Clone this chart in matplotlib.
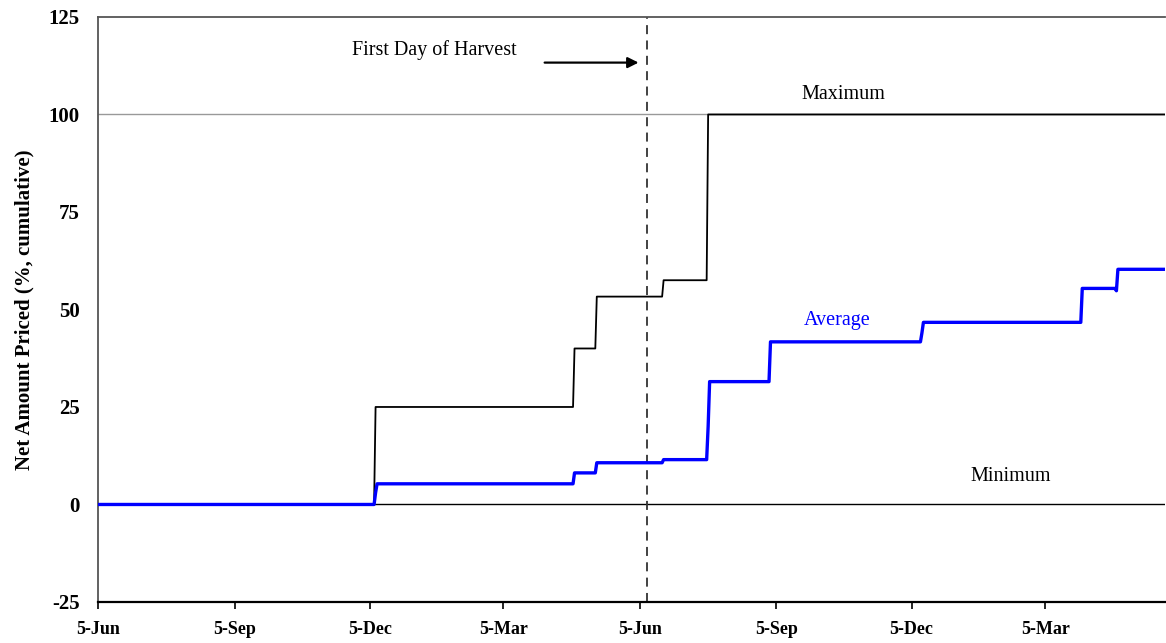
import matplotlib
matplotlib.use("Agg")
import matplotlib.pyplot as plt

# days counted from 5-Jun of the first year
tick_days = [0, 92, 183, 273, 365, 457, 548, 638]
tick_labels = ["5-Jun", "5-Sep", "5-Dec", "5-Mar", "5-Jun", "5-Sep", "5-Dec", "5-Mar"]

max_days = [0, 186, 187, 320, 321, 335, 336, 380, 381, 410, 411, 719]
max_vals = [0, 0, 25, 25, 40, 40, 53.3, 53.3, 57.5, 57.5, 100, 100]

avg_days = [0, 186, 187, 188, 320, 321, 335, 336, 380, 381, 410, 411, 412,
            452, 453, 554, 555, 556, 662, 663, 685, 686, 687, 719]
avg_vals = [0, 0, 3, 5.3, 5.3, 8.1, 8.1, 10.7, 10.7, 11.5, 11.5, 20, 31.5,
            31.5, 41.7, 41.7, 44, 46.7, 46.7, 55.4, 55.4, 54.8, 60.3, 60.3]

min_days = [0, 719]
min_vals = [0, 0]

harvest_day = 370

plt.rcParams['font.family'] = ['Liberation Serif', 'DejaVu Serif']
plt.rcParams['axes.unicode_minus'] = False

fig = plt.figure(figsize=(11.66, 6.43), dpi=100)
ax = fig.add_axes([0.084, 0.0638, 0.9155, 0.9098])

ax.axhline(100, color='#999999', lw=1.0, zorder=1)
ax.plot(min_days, min_vals, color='black', lw=1.0, zorder=2)
ax.plot(max_days, max_vals, color='black', lw=1.3, zorder=3)
ax.plot(avg_days, avg_vals, color='#0000FF', lw=2.4, zorder=4)
ax.axvline(harvest_day, color='#333333', lw=1.3, ls=(0, (5, 3.5)), zorder=2)

ax.text(502, 105, "Maximum", ha='center', va='center', fontsize=14.5)
ax.text(498, 47.2, "Average", ha='center', va='center', fontsize=14.5, color='#0000FF')
ax.text(615, 7.2, "Minimum", ha='center', va='center', fontsize=14.5)
ax.text(282, 116.4, "First Day of Harvest", ha='right', va='center', fontsize=14.5)
ax.annotate("", xy=(366, 113.3), xytext=(299, 113.3),
            arrowprops=dict(arrowstyle='-|>', color='black', lw=1.6, mutation_scale=16))

ax.set_xlim(0, 719)
ax.set_ylim(-25, 125)
ax.set_yticks([-25, 0, 25, 50, 75, 100, 125])
ax.set_xticks(tick_days)
ax.set_xticklabels(tick_labels, fontsize=13, fontweight='bold')
for lbl in ax.get_yticklabels():
    lbl.set_fontweight('bold')
    lbl.set_fontsize(15)
ax.tick_params(axis='y', length=0, pad=13)
ax.tick_params(axis='x', length=5, width=1.2, direction='out', pad=9)
ax.set_ylabel("Net Amount Priced (%, cumulative)", fontsize=15, fontweight='bold', labelpad=10)

ax.spines['bottom'].set_linewidth(1.6)
ax.spines['bottom'].set_color('black')
ax.spines['left'].set_color('#555555')
ax.spines['left'].set_linewidth(1.3)
ax.spines['top'].set_color('#555555')
ax.spines['top'].set_linewidth(1.3)
ax.spines['right'].set_visible(False)

fig.savefig("out.png", dpi=100)
